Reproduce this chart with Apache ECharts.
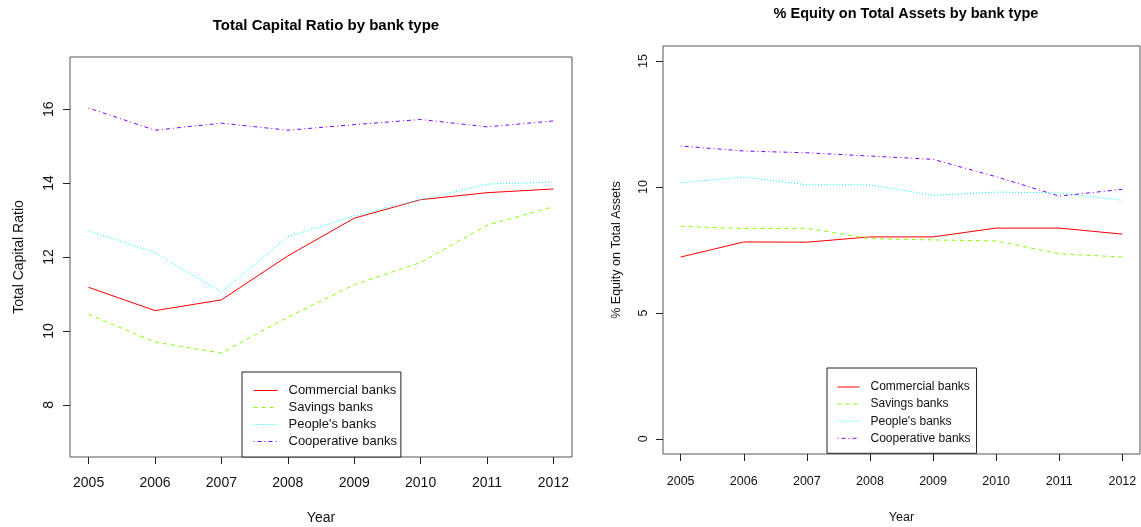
<!DOCTYPE html>
<html>
<head>
<meta charset="utf-8">
<script src="https://cdn.jsdelivr.net/npm/echarts@6/dist/echarts.min.js"></script>
<style>
  html, body { margin: 0; padding: 0; background: #fff; }
  #chart { width: 1141px; height: 527px; }
</style>
</head>
<body>
<div id="chart"></div>
<script>
// Years on the x axis of both panels
const years = [2005, 2006, 2007, 2008, 2009, 2010, 2011, 2012];
const bankTypes = ['Commercial banks', 'Savings banks', "People's banks", 'Cooperative banks'];

// Total capital ratio (%)
const tcrCommercial  = [11.18, 10.55, 10.84, 12.03, 13.05, 13.55, 13.74, 13.84];
const tcrSavings     = [10.45, 9.70, 9.40, 10.37, 11.25, 11.85, 12.86, 13.36];
const tcrPeoples     = [12.71, 12.12, 11.05, 12.55, 13.11, 13.55, 13.97, 14.03];
const tcrCooperative = [16.03, 15.43, 15.62, 15.43, 15.58, 15.72, 15.52, 15.68];

// Equity as % of total assets
const eqCommercial  = [7.22, 7.82, 7.81, 8.02, 8.02, 8.37, 8.37, 8.13];
const eqSavings     = [8.44, 8.35, 8.36, 7.95, 7.90, 7.86, 7.35, 7.22];
const eqPeoples     = [10.17, 10.40, 10.09, 10.09, 9.67, 9.80, 9.77, 9.47];
const eqCooperative = [11.63, 11.43, 11.36, 11.23, 11.10, 10.41, 9.64, 9.91];

// Tick labels
const tcrTicks = [8, 10, 12, 14, 16];
const eqTicks = [0, 5, 10, 15];

const colors = ['#FF0000', '#80FF00', '#00FFFF', '#8000FF'];
const dashes = ['solid', [4, 4], [1, 2], [1, 3, 4, 3]];
const FONT = '"Liberation Sans", Arial, sans-serif';

function pairs(vals) { return years.map((y, i) => [y, vals[i]]); }

function lineSeries(idx, vals, gi) {
  return {
    type: 'line', name: bankTypes[idx],
    xAxisIndex: gi, yAxisIndex: gi,
    data: pairs(vals),
    symbol: 'none', showSymbol: false, silent: true, animation: false,
    lineStyle: { color: colors[idx], width: 1, type: dashes[idx] },
    itemStyle: { color: colors[idx] }
  };
}

function xAxis(gi, fs, gap, margin) {
  return {
    type: 'value', gridIndex: gi, min: 2004.72, max: 2012.28,
    name: 'Year', nameLocation: 'middle', nameGap: gap,
    nameTextStyle: { fontFamily: FONT, fontSize: fs, color: '#111' },
    axisLine: { show: false, onZero: false },
    splitLine: { show: false },
    axisTick: { show: true, customValues: years, length: 7, lineStyle: { color: '#222' } },
    axisLabel: { customValues: years, margin: margin, fontFamily: FONT, fontSize: fs, color: '#111',
      formatter: v => String(v) }
  };
}

function yAxis(gi, min, max, ticks, name, fs, gap, margin) {
  return {
    type: 'value', gridIndex: gi, min: min, max: max,
    name: name, nameLocation: 'middle', nameGap: gap,
    nameTextStyle: { fontFamily: FONT, fontSize: fs, color: '#111' },
    axisLine: { show: false, onZero: false },
    splitLine: { show: false },
    axisTick: { show: true, customValues: ticks, length: 7, lineStyle: { color: '#222' } },
    axisLabel: { customValues: ticks, rotate: 90, margin: margin, fontFamily: FONT, fontSize: fs, color: '#111',
      formatter: v => String(v) }
  };
}

function legend(left, top, fs, iw, gap, padding, textPad) {
  return {
    orient: 'vertical', left: left, top: top,
    data: bankTypes,
    itemWidth: iw, itemHeight: 12, itemGap: gap,
    padding: padding,
    borderColor: '#222', borderWidth: 1, backgroundColor: '#fff',
    selectedMode: false,
    itemStyle: { opacity: 0 },
    lineStyle: { width: 1 },
    textStyle: { fontFamily: FONT, fontSize: fs, color: '#111', padding: [0, 0, 0, textPad] }
  };
}

const chart = echarts.init(document.getElementById('chart'), null, { renderer: 'canvas' });
chart.setOption({
  animation: false,
  backgroundColor: '#fff',
  title: [
    { text: 'Total Capital Ratio by bank type', left: 321, top: 13, textAlign: 'center',
      textStyle: { fontFamily: FONT, fontSize: 15, fontWeight: 'bold', color: '#000' } },
    { text: '% Equity on Total Assets by bank type', left: 901, top: 1, textAlign: 'center',
      textStyle: { fontFamily: FONT, fontSize: 14.5, fontWeight: 'bold', color: '#000' } }
  ],
  grid: [
    { left: 70, top: 57, width: 502, height: 400, show: true, borderColor: '#555', borderWidth: 1,
      backgroundColor: 'transparent', outerBoundsMode: 'none', containLabel: false },
    { left: 663, top: 46, width: 477, height: 408, show: true, borderColor: '#555', borderWidth: 1,
      backgroundColor: 'transparent', outerBoundsMode: 'none', containLabel: false }
  ],
  xAxis: [xAxis(0, 14, 54, 19), xAxis(1, 12.5, 57, 21)],
  yAxis: [
    yAxis(0, 6.59, 17.41, tcrTicks, 'Total Capital Ratio', 14, 44, 14),
    yAxis(1, -0.6, 15.6, eqTicks, '% Equity on Total Assets', 12.5, 40, 13)
  ],
  legend: [
    legend(242, 372, 13, 24, 4, [12, 4, 9, 11], 6),
    legend(827, 368, 12, 22, 5.1, [13, 6, 9, 10], 6)
  ],
  series: [
    lineSeries(0, tcrCommercial, 0),
    lineSeries(1, tcrSavings, 0),
    lineSeries(2, tcrPeoples, 0),
    lineSeries(3, tcrCooperative, 0),
    lineSeries(0, eqCommercial, 1),
    lineSeries(1, eqSavings, 1),
    lineSeries(2, eqPeoples, 1),
    lineSeries(3, eqCooperative, 1)
  ]
});
</script>
</body>
</html>
